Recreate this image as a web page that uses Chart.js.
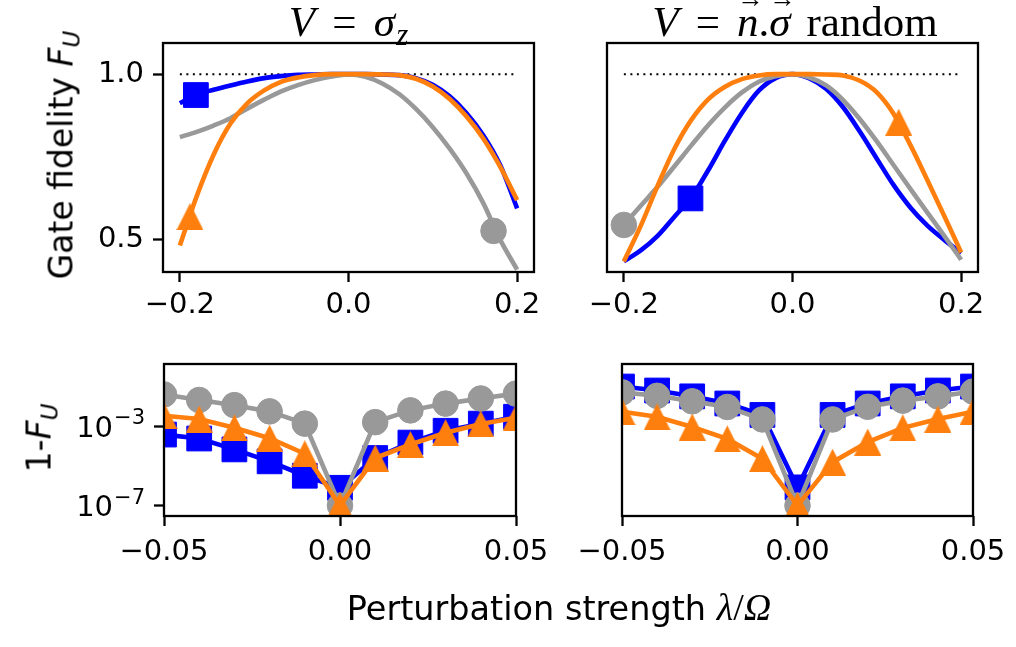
<!DOCTYPE html>
<html>
<head>
<meta charset="utf-8">
<script src="https://cdn.jsdelivr.net/npm/chart.js"></script>
<style>
html, body { margin: 0; padding: 0; background: #fff; }
#fig { position: relative; width: 1016px; height: 647px; overflow: hidden; background: #fff; }
#fig canvas { position: absolute; left: 0; top: 0; }
.ttl { position: absolute; transform: translate(-50%, -50%); font-family: 'Liberation Serif'; font-size: 43px; white-space: nowrap; line-height: 1; color: #000; }
.ttl .op { margin: 0 0.4em; }
.ttl .sp { margin-left: 0.12em; }
.ttl sub { font-size: 0.72em; vertical-align: -0.3em; line-height: 0; margin-left: 0.04em; }
.vec { position: relative; display: inline-block; }
.vec .arr { position: absolute; left: 50%; top: -0.55em; transform: translateX(-40%); font-size: 0.62em; font-style: normal; }
.yl { position: absolute; transform: translate(-50%, -50%) rotate(-90deg); font-family: 'DejaVu Sans'; font-size: 33px; white-space: nowrap; line-height: 1; color: #000; }
.yl sub, .xl sub { font-size: 0.7em; vertical-align: -0.3em; line-height: 0; }
.xl { position: absolute; transform: translate(-50%, -50%); font-family: 'DejaVu Sans'; font-size: 33.5px; white-space: nowrap; line-height: 1; color: #000; }
.xl .m { font-family: 'Liberation Serif'; font-size: 38px; }
</style>
</head>
<body>
<div id="fig">
  <canvas id="tl" width="1016" height="647"></canvas>
  <canvas id="tr" width="1016" height="647"></canvas>
  <canvas id="bl" width="1016" height="647"></canvas>
  <canvas id="br" width="1016" height="647"></canvas>
  <div class="ttl" style="left:348.5px; top:21px;"><i>V</i><span class="op">=</span><i>σ</i><sub><i>z</i></sub></div>
  <div class="ttl" style="left:795px; top:21px;"><i>V</i><span class="op">=</span><span class="vec"><i>n</i><span class="arr">→</span></span>.<span class="vec"><i>σ</i><span class="arr">→</span></span><span class="sp"> random</span></div>
  <div class="yl" style="left:61px; top:155px;">Gate fidelity <i>F</i><sub><i>U</i></sub></div>
  <div class="yl" style="left:39px; top:438px;">1-<i>F</i><sub><i>U</i></sub></div>
  <div class="xl" style="left:559px; top:607px;">Perturbation strength <span class="m"><i>λ</i>/<i>Ω</i></span></div>
</div>
<script>
// ---------- data ----------
const xTop = [-0.20, -0.18, -0.16, -0.14, -0.12, -0.10, -0.08, -0.06, -0.04, -0.02, 0.00,
              0.02, 0.04, 0.06, 0.08, 0.10, 0.12, 0.14, 0.16, 0.18, 0.20];

// top-left: V = sigma_z
const tlBlue   = [0.912, 0.938, 0.953, 0.966, 0.978, 0.988, 0.994, 0.998, 0.999, 1.000, 1.000,
                  1.000, 0.999, 0.997, 0.988, 0.968, 0.933, 0.882, 0.815, 0.725, 0.595];
const tlOrange = [0.483, 0.632, 0.757, 0.851, 0.912, 0.951, 0.977, 0.990, 0.997, 1.000, 1.000,
                  1.000, 0.999, 0.997, 0.986, 0.963, 0.925, 0.872, 0.805, 0.720, 0.620];
const tlGray   = [0.810, 0.826, 0.845, 0.867, 0.896, 0.923, 0.948, 0.967, 0.982, 0.993, 0.999,
                  0.992, 0.972, 0.940, 0.895, 0.840, 0.775, 0.700, 0.610, 0.500, 0.410];
// single markers (blue, orange, gray)
const tlMarkX = [-0.181, -0.188, 0.172];
const tlMarkY = [0.937, 0.570, 0.527];

// top-right: V = n.sigma random
const trBlue   = [0.435, 0.468, 0.512, 0.570, 0.628, 0.710, 0.800, 0.883, 0.950, 0.988, 1.000,
                  0.987, 0.955, 0.900, 0.826, 0.745, 0.665, 0.597, 0.543, 0.500, 0.460];
const trOrange = [0.435, 0.542, 0.663, 0.775, 0.862, 0.924, 0.962, 0.985, 0.996, 1.000, 1.000,
                  1.000, 0.999, 0.996, 0.980, 0.945, 0.880, 0.785, 0.680, 0.572, 0.462];
const trGray   = [0.545, 0.603, 0.660, 0.722, 0.785, 0.846, 0.900, 0.945, 0.977, 0.994, 1.000,
                  0.990, 0.966, 0.922, 0.864, 0.797, 0.725, 0.653, 0.582, 0.512, 0.440];
const trMarkX = [-0.121, 0.126, -0.200];
const trMarkY = [0.625, 0.855, 0.545];

// reference line F = 1
const refX = [-0.2, 0.2];
const refY = [1.0, 1.0];

// bottom panels: 1 - F_U
const xBot = [-0.05, -0.04, -0.03, -0.02, -0.01, 0.00, 0.01, 0.02, 0.03, 0.04, 0.05];
const blGray   = [4.0e-2, 2.1e-2, 1.15e-2, 5.6e-3, 1.35e-3, 1.0e-7, 1.6e-3, 6.3e-3, 1.38e-2, 2.5e-2, 4.4e-2];
const blBlue   = [3.8e-4, 2.4e-4, 6.8e-5, 1.7e-5, 3.2e-6, 7.9e-7, 2.5e-5, 1.5e-4, 5.9e-4, 1.35e-3, 3.0e-3];
const blOrange = [3.4e-3, 2.3e-3, 8.3e-4, 2.5e-4, 4.1e-5, 1.0e-7, 2.5e-5, 1.2e-4, 4.7e-4, 1.3e-3, 2.7e-3];
const brGray   = [5.1e-2, 3.4e-2, 1.8e-2, 9.3e-3, 2.2e-3, 1.0e-7, 2.2e-3, 9.5e-3, 1.95e-2, 3.2e-2, 5.6e-2];
const brBlue   = [1.0e-1, 6.3e-2, 3.2e-2, 1.4e-2, 3.7e-3, 8.3e-7, 3.7e-3, 1.4e-2, 3.2e-2, 6.3e-2, 1.0e-1];
const brOrange = [5.4e-3, 3.0e-3, 9.1e-4, 2.3e-4, 2.3e-5, 1.0e-7, 1.55e-5, 1.6e-4, 8.3e-4, 2.3e-3, 5.4e-3];

// ticks
const xTopTicks = [-0.2, 0.0, 0.2];
const xTopLabels = ['\u22120.2', '0.0', '0.2'];
const yTopTicks = [0.5, 1.0];
const yTopLabels = ['0.5', '1.0'];
const xBotTicks = [-0.05, 0.0, 0.05];
const xBotLabels = ['\u22120.05', '0.00', '0.05'];
const yBotTicks = [1e-7, 1e-3];
const yBotBase = ['10', '10'];
const yBotExp = ['\u22127', '\u22123'];

// ---------- styling / layout ----------
const FIG_W = 1016, FIG_H = 647;
const BLUE = '#0000ff', ORANGE = '#ff7f0e', GRAY = '#999999';
const TICK_SIZE = 29;
const TICK_FONT = { family: 'DejaVu Sans', size: TICK_SIZE };
const Y_AXIS_W = 100, X_AXIS_H = 60;
const LW = 4.6;

function triangleImage(color, size) {
  const c = document.createElement('canvas');
  c.width = size; c.height = size;
  const g = c.getContext('2d');
  g.fillStyle = color;
  g.beginPath();
  g.moveTo(size / 2, 0);
  g.lineTo(size, size);
  g.lineTo(0, size);
  g.closePath();
  g.fill();
  return c;
}
const TRI = triangleImage(ORANGE, 27);

const framePlugin = {
  id: 'frame',
  afterDraw(chart) {
    const a = chart.chartArea, ctx = chart.ctx;
    ctx.save();
    ctx.strokeStyle = '#000';
    ctx.lineWidth = 2.3;
    ctx.strokeRect(a.left, a.top, a.right - a.left, a.bottom - a.top);
    ctx.restore();
  }
};

// mathtext-like "10^{-n}" tick labels for the log axis
const logLabelPlugin = {
  id: 'logLabels',
  afterDraw(chart) {
    const s = chart.scales.y, ctx = chart.ctx;
    const xRight = chart.chartArea.left - 10 - 9;
    ctx.save();
    ctx.fillStyle = '#000';
    ctx.textBaseline = 'alphabetic';
    ctx.textAlign = 'right';
    yBotTicks.forEach((v, i) => {
      const y = s.getPixelForValue(v);
      ctx.font = '21px "DejaVu Sans"';
      const ew = ctx.measureText(yBotExp[i]).width;
      ctx.fillText(yBotExp[i], xRight, y - 2);
      ctx.font = TICK_SIZE + 'px "DejaVu Sans"';
      ctx.fillText(yBotBase[i], xRight - ew - 1, y + 10.5);
    });
    ctx.restore();
  }
};

function gridOpts() {
  return { display: true, drawOnChartArea: false, drawTicks: true, tickLength: 10, tickWidth: 2.3, tickColor: '#000', color: '#000' };
}
function xAxis(min, max, ticks, labels, pad) {
  return {
    type: 'linear', position: 'bottom', min, max,
    afterBuildTicks: ax => { ax.ticks = ticks.map(v => ({ value: v })); },
    afterFit: ax => { ax.height = X_AXIS_H; },
    ticks: { callback: (v, i) => labels[i], font: TICK_FONT, color: '#000', padding: pad, maxRotation: 0, minRotation: 0, autoSkip: false },
    grid: gridOpts(),
    border: { display: false }
  };
}
function yAxis(type, min, max, ticks, labels, show, drawLabels) {
  const s = {
    type, position: 'left', min, max, display: show,
    afterBuildTicks: ax => { ax.ticks = ticks.map(v => ({ value: v })); },
    ticks: { display: drawLabels, callback: (v, i) => labels ? labels[i] : '', font: TICK_FONT, color: '#000', padding: 9, autoSkip: false },
    grid: gridOpts(),
    border: { display: false }
  };
  if (show) s.afterFit = ax => { ax.width = Y_AXIS_W; };
  return s;
}

function pts(xs, ys) { return xs.map((x, i) => ({ x, y: ys[i] })); }

function curve(xs, ys, color, order) {
  return { data: pts(xs, ys), borderColor: color, backgroundColor: color, borderWidth: LW,
           pointRadius: 0, cubicInterpolationMode: 'monotone', fill: false, order, clip: 0 };
}
function markerStyle(kind, color) {
  if (kind === 'rect') return { pointStyle: 'rect', pointRadius: 17.5, pointBorderWidth: 1, pointBackgroundColor: color, pointBorderColor: color };
  if (kind === 'circle') return { pointStyle: 'circle', pointRadius: 12.8, pointBorderWidth: 1, pointBackgroundColor: color, pointBorderColor: color };
  return { pointStyle: TRI, pointRadius: 13.5, pointBorderWidth: 0, pointBackgroundColor: color, pointBorderColor: color };
}
function markerSet(x, y, color, kind, order) {
  return Object.assign({ data: [{ x, y }], showLine: false, borderColor: color, backgroundColor: color, order, clip: 0 }, markerStyle(kind, color));
}
function lineMarkers(xs, ys, color, kind, order) {
  return Object.assign({ data: pts(xs, ys), borderColor: color, backgroundColor: color, borderWidth: LW,
                         tension: 0, fill: false, order, clip: 0 }, markerStyle(kind, color));
}

function makeChart(id, area, yShown, scales, datasets, extraPlugins) {
  const padding = {
    left: area.left - (yShown ? Y_AXIS_W : 0),
    top: area.top,
    right: FIG_W - area.right,
    bottom: FIG_H - area.bottom - X_AXIS_H
  };
  return new Chart(document.getElementById(id), {
    type: 'line',
    data: { datasets },
    options: {
      responsive: false, animation: false, devicePixelRatio: 1,
      layout: { padding, autoPadding: false },
      plugins: { legend: { display: false }, tooltip: { enabled: false } },
      scales
    },
    plugins: [framePlugin].concat(extraPlugins || [])
  });
}

const Y_TOP_MIN = 0.403, Y_TOP_MAX = 1.094;
const Y_BOT_MIN = Math.pow(10, -7.465), Y_BOT_MAX = Math.pow(10, 0.135);

// top-left
makeChart('tl', { left: 163, right: 534, top: 43, bottom: 272 }, true, {
  x: xAxis(-0.22, 0.22, xTopTicks, xTopLabels, 6),
  y: yAxis('linear', Y_TOP_MIN, Y_TOP_MAX, yTopTicks, yTopLabels, true, true)
}, [
  markerSet(tlMarkX[1], tlMarkY[1], ORANGE, 'tri', 0.9),
  curve(xTop, tlOrange, ORANGE, 1),
  markerSet(tlMarkX[2], tlMarkY[2], GRAY, 'circle', 1.9),
  curve(xTop, tlGray, GRAY, 2),
  markerSet(tlMarkX[0], tlMarkY[0], BLUE, 'rect', 2.9),
  curve(xTop, tlBlue, BLUE, 3),
  { data: pts(refX, refY), borderColor: '#000', borderWidth: 2, borderDash: [2, 4.5], pointRadius: 0, order: 5, clip: 0 }
]);

// top-right
makeChart('tr', { left: 607, right: 978, top: 43, bottom: 272 }, false, {
  x: xAxis(-0.22, 0.22, xTopTicks, xTopLabels, 6),
  y: yAxis('linear', Y_TOP_MIN, Y_TOP_MAX, yTopTicks, yTopLabels, false, false)
}, [
  markerSet(trMarkX[1], trMarkY[1], ORANGE, 'tri', 0.9),
  curve(xTop, trOrange, ORANGE, 1),
  markerSet(trMarkX[2], trMarkY[2], GRAY, 'circle', 1.9),
  curve(xTop, trGray, GRAY, 2),
  markerSet(trMarkX[0], trMarkY[0], BLUE, 'rect', 2.9),
  curve(xTop, trBlue, BLUE, 3),
  { data: pts(refX, refY), borderColor: '#000', borderWidth: 2, borderDash: [2, 4.5], pointRadius: 0, order: 5, clip: 0 }
]);

// bottom-left
makeChart('bl', { left: 164, right: 516, top: 364, bottom: 516 }, true, {
  x: xAxis(-0.05, 0.05, xBotTicks, xBotLabels, 9),
  y: yAxis('logarithmic', Y_BOT_MIN, Y_BOT_MAX, yBotTicks, null, true, false)
}, [
  lineMarkers(xBot, blOrange, ORANGE, 'tri', 1),
  lineMarkers(xBot, blGray, GRAY, 'circle', 2),
  lineMarkers(xBot, blBlue, BLUE, 'rect', 3)
], [logLabelPlugin]);

// bottom-right
makeChart('br', { left: 622, right: 973, top: 364, bottom: 516 }, false, {
  x: xAxis(-0.05, 0.05, xBotTicks, xBotLabels, 9),
  y: yAxis('logarithmic', Y_BOT_MIN, Y_BOT_MAX, yBotTicks, null, false, false)
}, [
  lineMarkers(xBot, brOrange, ORANGE, 'tri', 1),
  lineMarkers(xBot, brGray, GRAY, 'circle', 2),
  lineMarkers(xBot, brBlue, BLUE, 'rect', 3)
]);
</script>
</body>
</html>
